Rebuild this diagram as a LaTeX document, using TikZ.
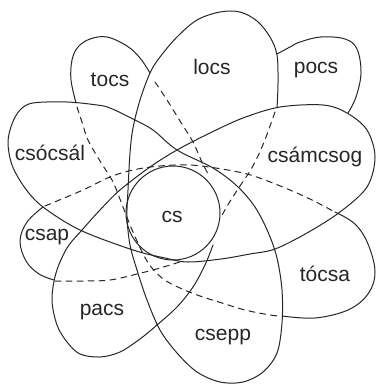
\documentclass[tikz,border=0pt]{standalone}
\usepackage{fontspec}
\setmainfont{Liberation Sans}
\begin{document}
\begin{tikzpicture}[x=1pt,y=-1pt,
  ln/.style={line width=1pt,draw=black!85,line join=round,line cap=round},
  hid/.style={ln,dash pattern=on 6pt off 5pt},
  lbl/.style={font=\fontsize{21}{21}\selectfont,text=black!85,inner sep=0pt}]
\useasboundingbox (0,0) rectangle (376,385);
% main chain
\draw[ln] plot[smooth,tension=0.55] coordinates {(277,108) (278,83) (277,55) (270,37) (257,21) (240,12) (220,12) (197,20) (177,37) (160,57) (150,73) (140,100) (133,128) (130,153) (128,190) (127,217) (130,245) (137,270) (147,300) (160,330) (177,353) (197,372) (220,382) (243,382) (263,372) (277,353) (282,323) (282,290) (277,258) (268,232) (255,207) (237,186) (213,168) (177,150) (153,130) (133,119) (110,108) (97,105) (67,102) (33,103) (20,110) (12,124) (8,142) (12,165) (25,188) (43,207) (80,230) (133,250) (165,258) (188,262) (221,259) (250,254) (275,249) (307,233) (340,212) (367,187) (375,157) (367,130) (347,113) (323,105) (280,107) (243,118) (210,133) (177,150) (150,167) (120,190) (100,210) (82,230) (67,248) (56,273) (52,300) (57,325) (67,342) (80,354) (100,357) (120,352) (140,339) (157,325) (177,307) (193,287) (205,265) (213,245)};
% small petals
\draw[ln] plot[smooth,tension=0.6] coordinates {(76,103) (71,80) (72,60) (78,47) (90,39) (107,37) (127,46) (140,58) (150,73)};
\draw[ln] plot[smooth,tension=0.6] coordinates {(277,54) (290,47) (300,42) (321,37) (345,39) (357,49) (361,73) (356,97) (348,113)};
\draw[ln] plot[smooth,tension=0.6] coordinates {(43,207) (27,222) (20,241) (26,261) (39,274) (54,280)};
\draw[ln] plot[smooth,tension=0.6] coordinates {(335,212) (355,224) (368,244) (375,272) (368,294) (348,310) (315,318) (282,316)};
% centre circle
\draw[ln] (173,213) circle[radius=47pt];
% hidden lines
\draw[hid] plot[smooth,tension=0.6] coordinates {(77,107) (82,122) (88,140) (100,161) (113,182) (123,207) (133,232) (147,261) (162,278) (180,288) (200,296) (222,303) (245,310) (270,315) (281,316)};
\draw[hid] plot[smooth,tension=0.6] coordinates {(45,206) (83,190) (110,177) (133,170) (160,166) (190,165) (222,169) (247,174) (265,180) (290,190) (312,200) (333,211)};
\draw[hid] plot[smooth,tension=0.6] coordinates {(155,82) (167,100) (180,121) (193,142) (201,160) (209,176)};
\draw[hid] plot[smooth,tension=0.6] coordinates {(275,112) (266,137) (258,156) (250,171) (240,186) (229,203) (221,217)};
\draw[hid] plot[smooth,tension=0.6] coordinates {(55,281) (83,281) (110,280) (137,274) (160,268) (183,261)};
% labels
\node[lbl] (tocs) at (110,80) {tocs};
\node[lbl] (locs) at (212,67) {locs};
\node[lbl] (pocs) at (316,70) {pocs};
\node[lbl] (csocsal) at (50,153) {csócsál};
\node[lbl] (csamcsog) at (315,157) {csámcsog};
\node[lbl] (cs) at (172,217) {cs};
\node[lbl] (csap) at (47,237) {csap};
\node[lbl] (tocsa) at (325,274) {tócsa};
\node[lbl] (pacs) at (102,312) {pacs};
\node[lbl] (csepp) at (223,337) {csepp};
\end{tikzpicture}
\end{document}
